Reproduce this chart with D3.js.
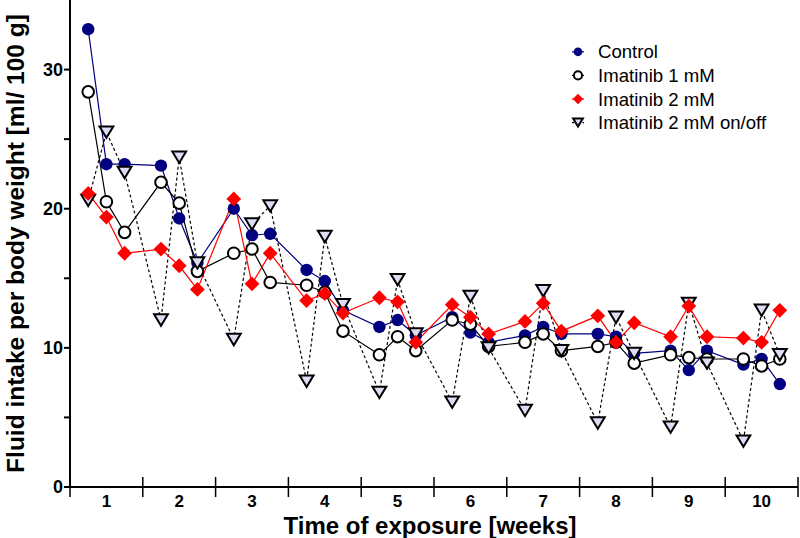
<!DOCTYPE html>
<html>
<head>
<meta charset="utf-8">
<script src="https://cdn.jsdelivr.net/npm/d3@7"></script>
<style>
  html, body { margin: 0; padding: 0; background: #fff; }
  svg { display: block; }
</style>
</head>
<body>
<svg id="chart" width="800" height="538"></svg>
<script>
// ---- data ----
const weekLabels = ["1","2","3","4","5","6","7","8","9","10"];
const timePoints = [0.25,0.5,0.75, 1.25,1.5,1.75, 2.25,2.5,2.75, 3.25,3.5,3.75, 4.25,4.5,4.75,
                    5.25,5.5,5.75, 6.25,6.5,6.75, 7.25,7.5,7.75, 8.25,8.5,8.75, 9.25,9.5,9.75];
const control   = [32.9,23.2,23.2, 23.1,19.3,16.1, 20.0,18.1,18.2, 15.6,14.8,12.7, 11.5,12.0,10.9,
                   12.2,11.1,10.4, 10.9,11.5,11.0, 11.0,10.8,9.6, 9.8,8.4,9.8, 8.8,9.2,7.4];
const imatinib1 = [28.4,20.5,18.3, 21.9,20.4,15.5, 16.8,17.1,14.7, 14.5,14.0,11.2, 9.5,10.8,9.8,
                   12.0,11.7,10.1, 10.4,11.0,9.8, 10.1,10.4,8.9, 9.5,9.3,9.2, 9.2,8.7,9.2];
const imatinib2 = [21.1,19.4,16.8, 17.1,15.9,14.2, 20.7,14.6,16.8, 13.4,13.9,12.5, 13.6,13.3,10.4,
                   13.1,12.2,11.0, 11.9,13.2,11.2, 12.3,10.4,11.8, 10.8,13.0,10.8, 10.7,10.4,12.7];
const onOff     = [20.6,25.5,22.6, 12.0,23.7,16.1, 10.6,18.9,20.2, 7.6,18.0,13.1, 6.8,14.9,11.0,
                   6.1,13.7,10.0, 5.5,14.1,9.8, 4.6,12.2,9.6, 4.3,13.2,8.9, 3.3,12.7,9.5];
const seriesNames = ["Control","Imatinib 1 mM","Imatinib 2 mM","Imatinib 2 mM on/off"];
const yTicksMajor = [0,10,20,30];
const yTicksMinor = [5,15,25];

// ---- layout ----
const svg = d3.select("#chart");
const x0 = 70, x1 = 798, yTop = 0, yBot = 487;
const x = d3.scaleLinear().domain([0,10]).range([x0,x1]);
const y = d3.scaleLinear().domain([0,35]).range([yBot,yTop]);
const FONT = "'Liberation Sans',Arial,Helvetica,sans-serif";

const series = [
  {name: seriesNames[0], values: control,   line:"#000080", dash:null, sym:"circle", fill:"#000080", stroke:"none"},
  {name: seriesNames[1], values: imatinib1, line:"#000000", dash:null, sym:"open",   fill:"#ffffff", stroke:"#000000"},
  {name: seriesNames[3], values: onOff,     line:"#000000", dash:"3,2.5", sym:"tri", fill:"#dcdcf4", stroke:"#000000"},
  {name: seriesNames[2], values: imatinib2, line:"#ff0000", dash:null, sym:"diamond", fill:"#ff0000", stroke:"none"}
];

function drawMarker(g, sym, s, fill, stroke) {
  if (sym === "circle") {
    g.append("circle").attr("r", 6.2*s).attr("fill", fill);
  } else if (sym === "open") {
    g.append("circle").attr("r", 5.8*s).attr("fill", fill).attr("stroke", stroke).attr("stroke-width", 2);
  } else if (sym === "diamond") {
    const h = 7.4*s;
    g.append("path").attr("d", `M0,${-h}L${h},0L0,${h}L${-h},0Z`).attr("fill", fill);
  } else if (sym === "tri") {
    const w = 6.9*s, hh = 5.7*s;
    g.append("path").attr("d", `M${-w},${-hh}L${w},${-hh}L0,${hh}Z`)
      .attr("fill", fill).attr("stroke", stroke).attr("stroke-width", 2).attr("stroke-linejoin","miter");
  }
}

// lines
const lineGen = d3.line().x((d,i)=>x(timePoints[i])).y(d=>y(d));
series.forEach(s => {
  svg.append("path").datum(s.values)
    .attr("d", lineGen).attr("fill","none")
    .attr("stroke", s.line).attr("stroke-width", 1.2)
    .attr("stroke-dasharray", s.dash);
});
// markers
series.forEach(s => {
  s.values.forEach((v,i) => {
    const g = svg.append("g").attr("transform", `translate(${x(timePoints[i])},${y(v)})`);
    drawMarker(g, s.sym, 1, s.fill, s.stroke);
  });
});

// y axis
svg.append("line").attr("x1",x0).attr("x2",x0).attr("y1",y(35)).attr("y2",yBot)
  .attr("stroke","#000").attr("stroke-width",2);
yTicksMajor.forEach(t => {
  svg.append("line").attr("x1",x0-6).attr("x2",x0).attr("y1",y(t)).attr("y2",y(t))
    .attr("stroke","#000").attr("stroke-width",2);
  svg.append("text").attr("x",x0-7).attr("y",y(t)).attr("dy","0.36em")
    .attr("text-anchor","end").attr("font-family",FONT).attr("font-weight","bold")
    .attr("font-size",18).text(t);
});
yTicksMinor.forEach(t => {
  svg.append("line").attr("x1",x0-6).attr("x2",x0).attr("y1",y(t)).attr("y2",y(t))
    .attr("stroke","#000").attr("stroke-width",2);
});

// x axis
svg.append("line").attr("x1",x0).attr("x2",x1).attr("y1",yBot).attr("y2",yBot)
  .attr("stroke","#000").attr("stroke-width",2);
d3.range(0,11).forEach(k => {
  svg.append("line").attr("x1",x(k)).attr("x2",x(k))
    .attr("y1", k===0 ? yBot : yBot-10).attr("y2",yBot+10)
    .attr("stroke","#000").attr("stroke-width",1.5);
});
weekLabels.forEach((lab,i) => {
  svg.append("text").attr("x",x(i+0.5)).attr("y",507)
    .attr("text-anchor","middle").attr("font-family",FONT).attr("font-weight","bold")
    .attr("font-size",17).text(lab);
});

// axis titles
svg.append("text").attr("x",(x0+x1)/2 - 4).attr("y",533.5)
  .attr("text-anchor","middle").attr("font-family",FONT).attr("font-weight","bold")
  .attr("font-size",24).text("Time of exposure [weeks]");
svg.append("text").attr("transform",`translate(24,${(yTop+yBot)/2}) rotate(-90)`)
  .attr("text-anchor","middle").attr("font-family",FONT).attr("font-weight","bold")
  .attr("font-size",24.5).text("Fluid intake per body weight [ml/ 100 g]");

// legend
const legendOrder = [series[0], series[1], series[3], series[2]];
legendOrder.forEach((s,i) => {
  const ly = 51.8 + i*23.6, lx = 578;
  svg.append("line").attr("x1",lx-6).attr("x2",lx+6).attr("y1",ly).attr("y2",ly)
    .attr("stroke",s.line).attr("stroke-width",1.2).attr("stroke-dasharray",s.dash ? "2,1.5" : null);
  const g = svg.append("g").attr("transform",`translate(${lx},${ly})`);
  drawMarker(g, s.sym, 0.7, s.fill, s.stroke);
  svg.append("text").attr("x",598).attr("y",ly).attr("dy","0.35em")
    .attr("font-family",FONT).attr("font-size",18.6)
    .text(s.name);
});
</script>
</body>
</html>
